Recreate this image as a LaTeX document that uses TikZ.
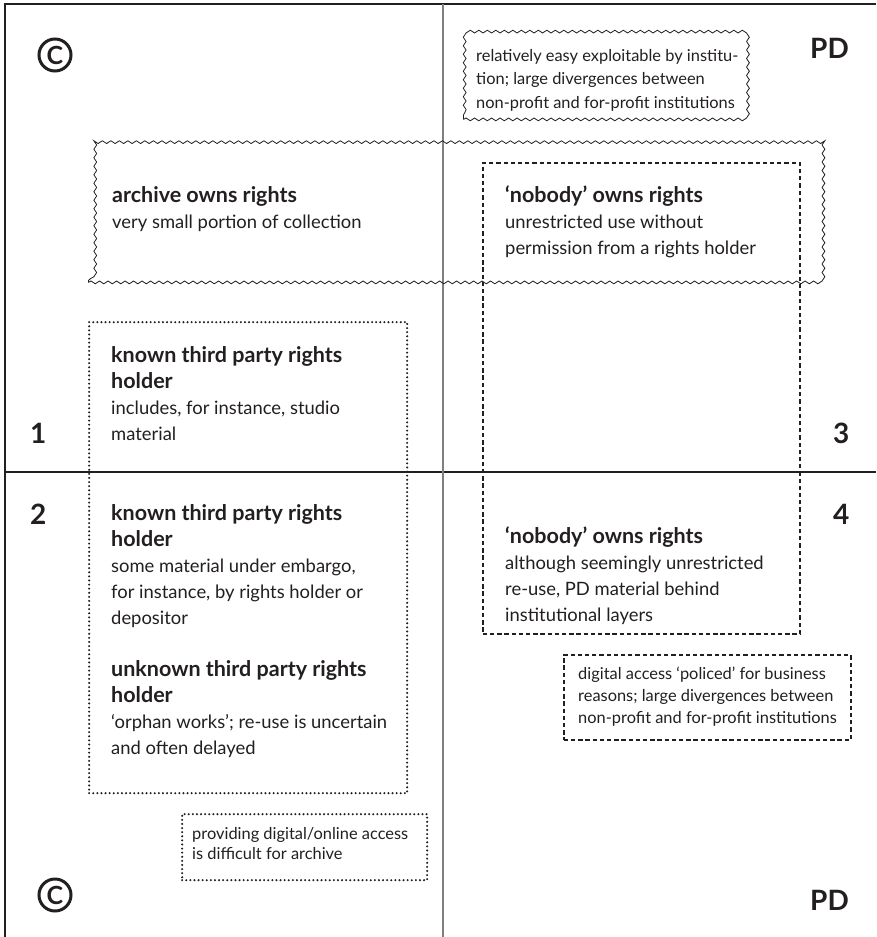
\documentclass[tikz,border=0pt]{standalone}
\usepackage{fontspec}
\setmainfont{Lato}
\usetikzlibrary{decorations.pathmorphing}
\definecolor{ink}{HTML}{231F20}
\definecolor{midgray}{HTML}{808080}
\newcommand{\hd}{\fontsize{21.5}{26}\selectfont\bfseries}
\begin{document}
\begin{tikzpicture}[x=1pt,y=-1pt,
  frame/.style={draw=ink, line width=1.2pt},
  midline/.style={draw=midgray, line width=1.4pt},
  wavybox/.style={draw=ink, line width=0.8pt, decorate, decoration={snake, segment length=8.5pt, amplitude=1.4pt}},
  dashbox/.style={draw=ink, line width=1.6pt, dash pattern=on 4.3pt off 2.9pt},
  dotbox/.style={draw=ink, line width=2.3pt, line cap=round, dash pattern=on 0pt off 4.1pt},
  body/.style={anchor=base west, align=left, inner sep=0pt, text=ink, font=\fontsize{18.4}{26}\selectfont},
  small/.style={anchor=base west, align=left, inner sep=0pt, text=ink, font=\fontsize{16.4}{#1}\selectfont},
  big/.style={anchor=base west, inner sep=0pt, text=ink, font=\fontsize{28}{30}\selectfont\bfseries},
  copy/.style={circle, draw=ink, line width=3pt, minimum size=32pt, inner sep=0pt, text=ink, font=\fontsize{25}{25}\selectfont\bfseries}
]
\useasboundingbox (0,0) rectangle (876,937);
\fill[white] (0,0) rectangle (876,937);

% frame lines
\draw[frame] (5,937) -- (5,4) -- (876,4);
\draw[frame] (5,472) -- (876,472);
\draw[midline] (443,4) -- (443,937);

% boxes
\node[wavybox, rectangle, anchor=north west, inner sep=0pt, minimum width=282pt, minimum height=84pt] (wtop) at (463,35) {};
\node[wavybox, rectangle, anchor=north west, inner sep=0pt, minimum width=732pt, minimum height=140pt] (wbig) at (88,142) {};
\node[dashbox, rectangle, anchor=north west, inner sep=0pt, minimum width=317pt, minimum height=471pt] (dbig) at (482,162) {};
\node[dashbox, rectangle, anchor=north west, inner sep=0pt, minimum width=287pt, minimum height=85pt] (dsmall) at (563,654) {};
\node[dotbox, rectangle, anchor=north west, inner sep=0pt, minimum width=318pt, minimum height=471pt] (obig) at (88,321) {};
\node[dotbox, rectangle, anchor=north west, inner sep=0pt, minimum width=245pt, minimum height=66pt] (osmall) at (181,813) {};

% corner marks
\node[copy] (c1) at (55,55) {C};
\node[copy] (c2) at (55,895) {C};
\node[big] (pd1) at (810,58) {PD};
\node[big] (pd2) at (810,910) {PD};
\node[big] (n1) at (30,443) {1};
\node[big] (n3) at (833,443) {3};
\node[big] (n2) at (30,524) {2};
\node[big] (n4) at (833,524) {4};

% texts (anchored at the baseline of the last line)
\node[small=23.5] (t0) at (476,108) {relatively easy exploitable by institu-\\tion; large divergences between\\non-profit and for-profit institutions};
\node[body] (t1) at (112,228) {{\hd archive owns rights}\\very small portion of collection};
\node[body] (t2) at (505,254) {{\hd ‘nobody’ owns rights}\\unrestricted use without\\permission from a rights holder};
\node[body] (t3) at (111,440) {{\hd known third party rights}\\{\hd holder}\\includes, for instance, studio\\material};
\node[body] (t4) at (111,624) {{\hd known third party rights}\\{\hd holder}\\some material under embargo,\\for instance, by rights holder or\\depositor};
\node[body] (t5) at (111,754) {{\hd unknown third party rights}\\{\hd holder}\\‘orphan works’; re-use is uncertain\\and often delayed};
\node[body] (t6) at (505,621) {{\hd ‘nobody’ owns rights}\\although seemingly unrestricted\\re-use, PD material behind\\institutional layers};
\node[small=22] (t7) at (578,723) {digital access ‘policed’ for business\\reasons; large divergences between\\non-profit and for-profit institutions};
\node[small=20] (t8) at (192,859) {providing digital/online access\\is difficult for archive};
\end{tikzpicture}
\end{document}
